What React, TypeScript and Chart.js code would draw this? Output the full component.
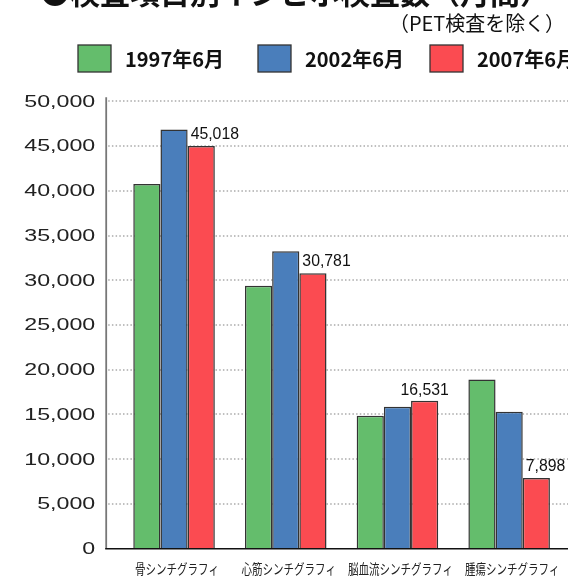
import { useEffect, useRef } from 'react';
import { Chart, registerables } from 'chart.js';

Chart.register(...registerables);

const categories = ['骨シンチグラフィ', '心筋シンチグラフィ', '脳血流シンチグラフィ', '腫瘍シンチグラフィ'];
const seriesLabels = ['1997年6月', '2002年6月', '2007年6月'];
const values1997 = [40750, 29400, 14850, 18900];
const values2002 = [46850, 33250, 15850, 15300];
const values2007 = [45018, 30781, 16531, 7898];
const yTicks = [0, 5000, 10000, 15000, 20000, 25000, 30000, 35000, 40000, 45000, 50000];
const titleText = '●検査項目別インビボ検査数（月間）';
const subtitleText = '（PET検査を除く）';

const colors = ['#64BD6C', '#4A7EBB', '#FB4B51'];
const labelAlign = ['left', 'left', 'center', 'left'];

const W = 620;
const H = 606;
const SHIFT = 30;
const JP = '"Noto Sans CJK JP", "Noto Sans", sans-serif';
const NUM = '"Liberation Sans", Arial, sans-serif';

const decor = {
  id: 'decor',
  beforeDatasetsDraw(chart: any) {
    const { ctx, chartArea, scales } = chart;
    const y = scales.y;
    const axisX = chartArea.left - 12;
    ctx.save();
    ctx.strokeStyle = '#aaaaaa';
    ctx.lineWidth = 1.5;
    ctx.setLineDash([1.5, 2.2]);
    yTicks.forEach((v) => {
      if (v === 0) return;
      const py = Math.round(y.getPixelForValue(v));
      ctx.beginPath();
      ctx.moveTo(axisX + 2, py);
      ctx.lineTo(W, py);
      ctx.stroke();
    });
    ctx.setLineDash([]);
    // y tick labels
    ctx.fillStyle = '#222';
    ctx.font = `16px ${NUM}`;
    ctx.textAlign = 'right';
    ctx.textBaseline = 'middle';
    yTicks.forEach((v) => {
      const py = y.getPixelForValue(v);
      ctx.save();
      ctx.translate(axisX - 11, py + 1);
      ctx.scale(1.45, 1);
      ctx.fillText(v.toLocaleString('en-US'), 0, 0);
      ctx.restore();
    });
    ctx.restore();
  },
  afterDatasetsDraw(chart: any) {
    const { ctx, chartArea, scales } = chart;
    const y = scales.y;
    const x = scales.x;
    const axisX = chartArea.left - 12;
    const base = y.getPixelForValue(0);
    ctx.save();
    // axes
    ctx.strokeStyle = '#777';
    ctx.lineWidth = 1.8;
    ctx.beginPath();
    ctx.moveTo(axisX, y.getPixelForValue(50000) - 4);
    ctx.lineTo(axisX, base);
    ctx.stroke();
    ctx.strokeStyle = '#111';
    ctx.lineWidth = 1.5;
    ctx.beginPath();
    ctx.moveTo(axisX - 1, base);
    ctx.lineTo(W, base);
    ctx.stroke();

    // data labels for the last series
    const meta = chart.getDatasetMeta(2);
    ctx.fillStyle = '#111';
    ctx.font = `17px ${NUM}`;
    ctx.textBaseline = 'alphabetic';
    meta.data.forEach((bar: any, i: number) => {
      const txt = values2007[i].toLocaleString('en-US');
      const align = labelAlign[i];
      const left = bar.x - bar.width / 2 + 3;
      ctx.save();
      if (align === 'center') {
        ctx.translate(bar.x, bar.y - 6);
        ctx.textAlign = 'center';
      } else {
        ctx.translate(left, bar.y - 7);
        ctx.textAlign = 'left';
      }
      ctx.scale(0.93, 1);
      ctx.fillText(txt, 0, 0);
      ctx.restore();
    });

    // category labels
    ctx.fillStyle = '#222';
    ctx.font = `14px ${JP}`;
    ctx.textAlign = 'center';
    ctx.textBaseline = 'middle';
    categories.forEach((c, i) => {
      const px = x.getPixelForValue(i);
      ctx.save();
      ctx.translate(px + 3, base + 20);
      ctx.scale(0.75, 1);
      ctx.fillText(c, 0, 0);
      ctx.restore();
    });

    // title
    ctx.fillStyle = '#111';
    ctx.font = `bold 30px ${JP}`;
    ctx.textAlign = 'left';
    ctx.textBaseline = 'alphabetic';
    const tw = ctx.measureText(titleText).width;
    ctx.save();
    ctx.translate(40, SHIFT + 4);
    ctx.scale(Math.min(1, 522 / tw), 1);
    ctx.fillText(titleText, 0, 0);
    ctx.restore();

    // subtitle
    ctx.font = `20px ${JP}`;
    ctx.textAlign = 'left';
    ctx.textBaseline = 'middle';
    const sw = ctx.measureText(subtitleText).width;
    ctx.save();
    ctx.translate(389, SHIFT + 23);
    ctx.scale(176 / sw, 1);
    ctx.fillText(subtitleText, 0, 0);
    ctx.restore();

    // legend
    const boxX = [78, 258, 430];
    ctx.font = `bold 20px ${JP}`;
    ctx.textAlign = 'left';
    ctx.textBaseline = 'middle';
    seriesLabels.forEach((s, i) => {
      ctx.fillStyle = colors[i];
      ctx.fillRect(boxX[i], SHIFT + 45, 33, 27);
      ctx.strokeStyle = '#333';
      ctx.lineWidth = 1.3;
      ctx.strokeRect(boxX[i], SHIFT + 45, 33, 27);
      ctx.fillStyle = '#111';
      ctx.fillText(s, boxX[i] + 47, SHIFT + 59);
    });
    ctx.restore();
  },
};

export default function App() {
  const ref = useRef<HTMLCanvasElement>(null);
  useEffect(() => {
    if (!ref.current) return;
    const chart = new Chart(ref.current, {
      type: 'bar',
      data: {
        labels: categories,
        datasets: [
          { label: seriesLabels[0], data: values1997, backgroundColor: colors[0], borderColor: '#333', borderWidth: 1.5 },
          { label: seriesLabels[1], data: values2002, backgroundColor: colors[1], borderColor: '#333', borderWidth: 1.5 },
          { label: seriesLabels[2], data: values2007, backgroundColor: colors[2], borderColor: '#333', borderWidth: 1.5 },
        ],
      },
      options: {
        responsive: false,
        animation: false,
        devicePixelRatio: 1,
        layout: { padding: { left: 118.2, right: W - 565, top: 101.3 + SHIFT, bottom: H - (548.7 + SHIFT) } },
        datasets: { bar: { categoryPercentage: 0.73, barPercentage: 1 } },
        plugins: { legend: { display: false }, title: { display: false }, tooltip: { enabled: false } },
        scales: {
          x: { display: false, offset: true },
          y: { display: false, min: 0, max: 50000 },
        },
      },
      plugins: [decor],
    });
    return () => chart.destroy();
  }, []);
  return (
    <div style={{ position: 'fixed', left: 0, top: 0, width: 568, height: 576, overflow: 'hidden', background: '#fff' }}>
      <canvas ref={ref} width={W} height={H} style={{ position: 'absolute', left: 0, top: -SHIFT, width: W, height: H }} />
    </div>
  );
}
